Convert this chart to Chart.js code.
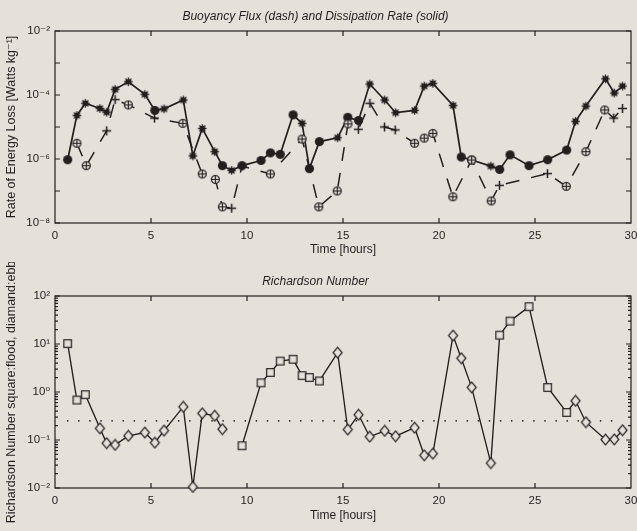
<!DOCTYPE html>
<html>
<head>
<meta charset="utf-8">
<title>Buoyancy flux, dissipation rate and Richardson number</title>
<script src="https://cdn.jsdelivr.net/npm/chart.js@4.4.1/dist/chart.umd.min.js"></script>
<style>
    html, body { margin: 0; padding: 0; background: #e4e1db; overflow: hidden; }
    .panel { position: absolute; left: 0; }
</style>
</head>
<body>
<div class="panel" style="top:0"><canvas id="fluxChart" width="660" height="262"></canvas></div>
<div class="panel" style="top:262px"><canvas id="riChart" width="660" height="269"></canvas></div>
<script>
// sample times of the casts [hours]
const hours = [0.66, 1.14, 1.58, 2.34, 2.69, 3.13, 3.82, 4.68, 5.20, 5.68, 6.68, 7.18, 7.67, 8.32, 8.72, 9.20,
    9.74, 10.73, 11.22, 11.73, 12.40, 12.87, 13.25, 13.77, 14.72, 15.25, 15.81, 16.39, 17.17, 17.74, 18.73, 19.23,
    19.68, 20.73, 21.16, 21.70, 22.70, 23.16, 23.70, 24.69, 25.66, 26.65, 27.11, 27.65, 28.67, 29.13, 29.56];

// dissipation rate [W/kg] (solid line); symbol D = filled dot, S = asterisk
const dissipation = [9.5e-7, 2.3e-5, 5.5e-5, 3.8e-5, 2.9e-5, 1.5e-4, 2.6e-4, 1.05e-4, 3.3e-5, 3.7e-5, 7e-5, 1.25e-6,
    9e-6, 1.7e-6, 6.2e-7, 4.4e-7, 6.2e-7, 9e-7, 1.55e-6, 1.4e-6, 2.4e-5, 1.3e-5, 5e-7, 3.5e-6, 4.6e-6, 2e-5, 1.6e-5,
    2.2e-4, 7e-5, 2.8e-5, 3.3e-5, 1.9e-4, 2.3e-4, 4.7e-5, 1.15e-6, 9.3e-7, 6e-7, 4.7e-7, 1.35e-6, 6.2e-7, 9.5e-7,
    1.9e-6, 1.5e-5, 4.5e-5, 3.2e-4, 1.15e-4, 1.9e-4];
const dissSymbol = "DSSSSSSSDSSSSSDSDDDDDSDDSDDSSSSSSSDDSDDDDDSSSSS".split("");

// buoyancy flux [W/kg] (dashed line); symbol O = circled plus, P = plus
const buoyHours = [1.14, 1.63, 2.69, 3.13, 3.82, 5.18, 6.66, 7.67, 8.35, 8.72, 9.20, 9.74, 11.22, 12.87, 13.74,
    14.70, 15.26, 15.80, 16.40, 17.16, 17.72, 18.73, 19.23, 19.68, 20.72, 21.70, 22.72, 23.15, 25.65, 26.63, 27.65,
    28.63, 29.10, 29.56];
const buoyancy = [3.1e-6, 6.2e-7, 7.6e-6, 7.2e-5, 4.9e-5, 1.9e-5, 1.3e-5, 3.4e-7, 2.3e-7, 3.2e-8, 2.9e-8, 6e-7,
    3.4e-7, 4.2e-6, 3.2e-8, 1.0e-7, 1.25e-5, 8.5e-6, 5.5e-5, 1.0e-5, 8.1e-6, 3.1e-6, 4.5e-6, 6.3e-6, 6.6e-8, 9.3e-7,
    4.9e-8, 1.5e-7, 3.5e-7, 1.4e-7, 1.7e-6, 3.4e-5, 1.9e-5, 3.8e-5];
const buoySymbol = "OOPPOPOOOOPPOOOOOPPPPOOOOOOPPOOOPP".split("");

// Richardson number; tide F = flood (square), E = ebb (diamond), "-" = no value
const richardson = [10.2, 0.68, 0.88, 0.175, 0.086, 0.079, 0.122, 0.143, 0.088, 0.157, 0.49, 0.0105, 0.36, 0.32,
    0.168, null, 0.076, 1.55, 2.55, 4.4, 4.8, 2.2, 2.0, 1.7, 6.6, 0.165, 0.335, 0.117, 0.155, 0.12, 0.18, 0.048,
    0.052, 15, 5.05, 1.25, 0.033, 15.3, 30, 60, 1.24, 0.375, 0.655, 0.235, 0.102, 0.103, 0.16];
const riTide = "FFFEEEEEEEEEEEE-FFFFFFFFEEEEEEEEEEEEEFFFFFEEEEE".split("");
const riCritical = 0.25;

const timeTicks = [0, 30, 5]; // min, max, step

const ink = "#221f1d";
const paper = "#e4e1db";
Chart.defaults.font.family = "'Liberation Sans', Arial, 'DejaVu Sans', sans-serif";
Chart.defaults.color = ink;

// little canvases used as point symbols
const makeSymbol = (size, draw) => {
    const c = document.createElement("canvas");
    c.width = size;
    c.height = size;
    const g = c.getContext("2d");
    g.translate(size / 2, size / 2);
    g.strokeStyle = ink;
    g.fillStyle = ink;
    g.lineWidth = 1.2;
    draw(g);
    return c;
};

const symbols = {
    D: makeSymbol(11, g => { g.beginPath(); g.arc(0, 0, 4.6, 0, Math.PI * 2); g.fill(); }),
    S: makeSymbol(11, g => {
        g.beginPath(); g.arc(0, 0, 2.8, 0, Math.PI * 2); g.fill();
        g.lineWidth = 1.3;
        g.beginPath();
        for (let k = 0; k < 4; k++) {
            const a = k * Math.PI / 4;
            g.moveTo(-4.2 * Math.cos(a), -4.2 * Math.sin(a));
            g.lineTo(4.2 * Math.cos(a), 4.2 * Math.sin(a));
        }
        g.stroke();
    }),
    O: makeSymbol(11, g => {
        g.fillStyle = paper;
        g.beginPath(); g.arc(0, 0, 4, 0, Math.PI * 2); g.fill(); g.stroke();
        g.beginPath(); g.moveTo(-4, 0); g.lineTo(4, 0); g.moveTo(0, -4); g.lineTo(0, 4); g.stroke();
    }),
    P: makeSymbol(11, g => {
        g.lineWidth = 1.5;
        g.beginPath(); g.moveTo(-4.5, 0); g.lineTo(4.5, 0); g.moveTo(0, -4.5); g.lineTo(0, 4.5); g.stroke();
    }),
    F: makeSymbol(11, g => { g.fillStyle = paper; g.fillRect(-3.8, -3.8, 7.6, 7.6); g.strokeRect(-3.8, -3.8, 7.6, 7.6); }),
    E: makeSymbol(13, g => {
        g.fillStyle = paper;
        g.beginPath(); g.moveTo(0, -5.4); g.lineTo(4.5, 0); g.lineTo(0, 5.4); g.lineTo(-4.5, 0); g.closePath();
        g.fill(); g.stroke();
    })
};

const sup = s => s.replace(/[-0-9]/g, c => "⁻⁰¹²³⁴⁵⁶⁷⁸⁹"["-0123456789".indexOf(c)]);

// frame with inward tick marks, matlab style
const boxTicks = {
    id: "boxTicks",
    beforeDatasetsDraw(chart, args, opts) {
        const { ctx, chartArea: a, scales: { x, y } } = chart;
        ctx.save();
        ctx.strokeStyle = ink;
        ctx.lineWidth = 1.2;
        ctx.strokeRect(a.left, a.top, a.right - a.left, a.bottom - a.top);
        ctx.beginPath();
        x.ticks.forEach(t => {
            if (t.value <= x.min || t.value >= x.max) return;
            const px = x.getPixelForValue(t.value);
            ctx.moveTo(px, a.bottom); ctx.lineTo(px, a.bottom - 5);
            ctx.moveTo(px, a.top); ctx.lineTo(px, a.top + 5);
        });
        const yMark = (v, len) => {
            const py = y.getPixelForValue(v);
            ctx.moveTo(a.left, py); ctx.lineTo(a.left + len, py);
            ctx.moveTo(a.right, py); ctx.lineTo(a.right - len, py);
        };
        y.ticks.forEach(t => {
            yMark(t.value, 5);
            if (opts.minor) {
                for (let m = 2; m < 10; m++) if (t.value * m < y.max) yMark(t.value * m, 3);
            }
        });
        ctx.stroke();
        ctx.restore();
    }
};

const panelOptions = ({ title, titlePad, yTitle, yMin, yMax, labelStep, xHeight, padBottom, minor }) => ({
    responsive: false,
    animation: false,
    layout: { padding: { left: 0, right: 29, top: 0, bottom: padBottom } },
    plugins: {
        legend: { display: false },
        tooltip: { enabled: false },
        title: { display: true, text: title, color: ink, font: { size: 12, weight: "normal", style: "italic" }, padding: titlePad },
        boxTicks: { minor }
    },
    scales: {
        x: {
            type: "linear", min: timeTicks[0], max: timeTicks[1],
            grid: { display: false, drawTicks: false }, border: { display: false },
            ticks: { stepSize: timeTicks[2], padding: 5.6, font: { size: 11.5 }, maxRotation: 0 },
            title: { display: true, text: "Time [hours]", font: { size: 12 }, padding: 0 },
            afterFit: s => { s.height = xHeight; }
        },
        y: {
            type: "logarithmic", min: yMin, max: yMax,
            grid: { display: false, drawTicks: false }, border: { display: false },
            afterBuildTicks: s => {
                s.ticks = [];
                for (let e = Math.round(Math.log10(yMin)); e <= Math.round(Math.log10(yMax)); e++) s.ticks.push({ value: Math.pow(10, e) });
            },
            ticks: {
                autoSkip: false, padding: 5, font: { size: 11.5 },
                callback: v => {
                    const e = Math.round(Math.log10(v));
                    return e % labelStep === 0 ? "10" + sup(String(e)) : "";
                }
            },
            title: { display: true, text: yTitle, font: { size: 12.5 }, padding: { top: 4.5, bottom: 0 } },
            afterFit: s => { s.width = 55; }
        }
    }
});

// top panel: buoyancy flux and dissipation
new Chart(document.getElementById("fluxChart"), {
    type: "line",
    data: {
        datasets: [{
            data: buoyHours.map((h, i) => ({ x: h, y: buoyancy[i] })),
            borderColor: ink, borderWidth: 1.5, borderDash: [14, 12], tension: 0,
            pointStyle: buoySymbol.map(k => symbols[k]), pointRadius: 4, clip: false
        }, {
            data: hours.map((h, i) => ({ x: h, y: dissipation[i] })),
            borderColor: ink, borderWidth: 1.7, tension: 0,
            pointStyle: dissSymbol.map(k => symbols[k]), pointRadius: 4, clip: false
        }]
    },
    options: panelOptions({
        title: "Buoyancy Flux (dash) and Dissipation Rate (solid)",
        titlePad: { top: 9.8, bottom: 6.8 },
        yTitle: "Rate of Energy Loss [Watts kg" + sup("-1") + "]",
        yMin: 1e-8, yMax: 1e-2, labelStep: 2,
        xHeight: 34, padBottom: 5, minor: false
    }),
    plugins: [boxTicks]
});

// bottom panel: Richardson number
new Chart(document.getElementById("riChart"), {
    type: "line",
    data: {
        datasets: [{
            data: hours.map((h, i) => ({ x: h, y: richardson[i] })),
            borderColor: ink, borderWidth: 1.35, tension: 0, spanGaps: false,
            pointStyle: riTide.map(k => symbols[k] || "circle"), pointRadius: 4, clip: false
        }, {
            data: [{ x: hours[0], y: riCritical }, { x: hours[hours.length - 1], y: riCritical }],
            borderColor: ink, borderWidth: 1.6, borderDash: [0.1, 11], borderCapStyle: "round",
            pointRadius: 0
        }]
    },
    options: panelOptions({
        title: "Richardson Number",
        titlePad: { top: 12.8, bottom: 6.8 },
        yTitle: "Richardson Number square:flood, diamand:ebb",
        yMin: 1e-2, yMax: 1e2, labelStep: 1,
        xHeight: 35, padBottom: 8, minor: true
    }),
    plugins: [boxTicks]
});
</script>
</body>
</html>
